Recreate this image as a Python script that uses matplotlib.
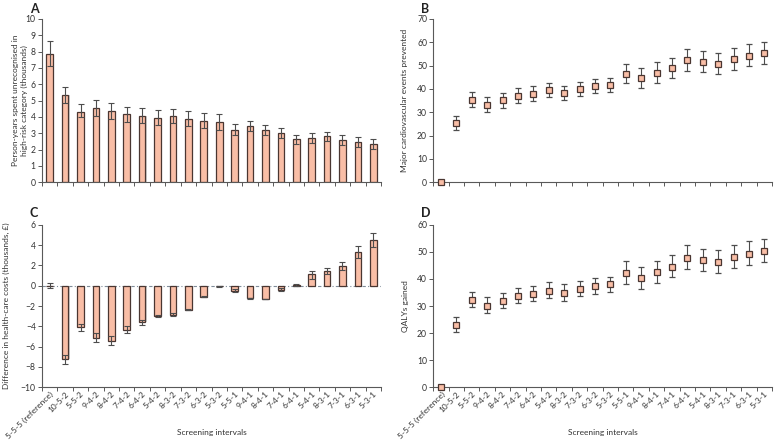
import matplotlib
matplotlib.use("Agg")
import matplotlib.pyplot as plt
import numpy as np

plt.rcParams['font.family'] = ['Lato', 'DejaVu Sans']

categories = ["5-5-5 (reference)", "10-5-2", "5-5-2", "9-4-2", "8-4-2", "7-4-2", "6-4-2",
              "5-4-2", "8-3-2", "7-3-2", "6-3-2", "5-3-2", "5-5-1", "9-4-1", "8-4-1",
              "7-4-1", "6-4-1", "5-4-1", "8-3-1", "7-3-1", "6-3-1", "5-3-1"]

# Panel A: person-years unrecognised in high-risk category (thousands)
a_val = [7.86, 5.35, 4.32, 4.55, 4.35, 4.16, 4.06, 3.94, 4.04, 3.88, 3.75, 3.69,
         3.22, 3.43, 3.20, 3.00, 2.63, 2.71, 2.81, 2.59, 2.45, 2.33]
a_lo = [7.12, 4.87, 3.98, 4.08, 3.90, 3.71, 3.61, 3.49, 3.61, 3.43, 3.31, 3.20,
        2.90, 3.12, 2.90, 2.69, 2.35, 2.39, 2.51, 2.30, 2.14, 2.04]
a_hi = [8.67, 5.82, 4.80, 5.04, 4.84, 4.61, 4.53, 4.41, 4.51, 4.35, 4.22, 4.18,
        3.55, 3.73, 3.49, 3.31, 2.90, 3.00, 3.08, 2.88, 2.76, 2.63]

# Panel B: major cardiovascular events prevented
b_val = [0, 25.3, 35.4, 33.1, 35.1, 37.1, 38.0, 39.4, 38.3, 39.9, 41.1, 41.8,
         46.5, 44.6, 46.8, 48.9, 52.6, 51.6, 50.7, 52.7, 54.3, 55.3]
b_lo = [0, 22.4, 32.4, 30.1, 32.0, 34.0, 35.0, 36.6, 35.3, 36.9, 38.1, 38.8,
        42.6, 40.3, 42.6, 44.6, 47.6, 47.1, 46.4, 48.1, 49.7, 50.6]
b_hi = [0, 28.3, 38.6, 36.4, 38.1, 40.3, 41.1, 42.6, 41.4, 43.1, 44.1, 44.9,
        50.6, 49.1, 51.4, 53.4, 57.3, 56.4, 55.6, 57.7, 59.1, 60.0]

# Panel C: difference in health-care costs (thousands, GBP)
c_val = [0.0, -7.25, -4.1, -5.1, -5.4, -4.35, -3.6, -3.0, -2.85, -2.35, -1.08, -0.07,
         -0.55, -1.25, -1.3, -0.45, 0.05, 1.1, 1.45, 1.95, 3.35, 4.5]
c_lo = [-0.27, -7.75, -4.45, -5.55, -5.8, -4.7, -3.85, -3.1, -3.0, -2.4, -1.1, -0.12,
        -0.62, -1.28, -1.33, -0.5, 0.0, 0.7, 1.1, 1.5, 2.75, 3.8]
c_hi = [0.27, -6.8, -3.8, -4.7, -5.0, -4.0, -3.35, -2.9, -2.7, -2.25, -1.05, -0.02,
        -0.35, -1.22, -1.27, -0.2, 0.15, 1.45, 1.75, 2.35, 3.9, 5.2]

# Panel D: QALYs gained
d_val = [0, 23.0, 32.1, 30.1, 31.7, 33.7, 34.6, 35.7, 34.8, 36.4, 37.3, 38.0,
         42.3, 40.3, 42.4, 44.5, 47.7, 46.8, 46.1, 48.1, 49.3, 50.3]
d_lo = [0, 20.4, 29.5, 27.3, 29.1, 31.0, 31.8, 33.0, 32.0, 33.6, 34.6, 35.2,
        38.1, 36.4, 38.4, 40.6, 43.6, 42.8, 42.0, 43.9, 45.0, 46.1]
d_hi = [0, 25.8, 35.0, 33.2, 34.7, 36.8, 37.5, 38.7, 38.0, 39.3, 40.2, 40.8,
        46.5, 44.5, 46.6, 48.8, 52.4, 51.2, 50.5, 52.5, 53.9, 54.6]

W, H = 774, 441
fig = plt.figure(figsize=(W / 100, H / 100), dpi=100)

FILL = '#f9bea6'
EDGE = '#4a3631'
ERR = '#4d4d4d'
SPINE = '#595959'
TXT = '#333333'
TFS = 6.2
XFS = 6.0
LFS = 6.0

def px_axes(x0, y0, x1, y1):
    return fig.add_axes([x0 / W, 1 - y1 / H, (x1 - x0) / W, (y1 - y0) / H])

x = np.arange(len(categories))

def style(ax, ylim, yticks, show_labels):
    ax.set_xlim(-0.5, len(categories) - 0.5)
    ax.set_ylim(*ylim)
    ax.set_yticks(yticks)
    ax.set_yticklabels([str(t) if t >= 0 else '\u2212' + str(-t) for t in yticks])
    for s in ['top', 'right']:
        ax.spines[s].set_visible(False)
    for s in ['left', 'bottom']:
        ax.spines[s].set_color(SPINE)
        ax.spines[s].set_linewidth(0.8)
    ax.set_xticks(np.arange(-0.5, len(categories)), minor=False)
    ax.set_xticklabels([])
    ax.tick_params(axis='both', direction='out', length=3, width=0.7, color=SPINE,
                   labelsize=TFS, labelcolor=TXT, pad=1.5)
    if show_labels:
        ax.set_xticks(x, minor=True)
        ax.set_xticklabels(categories, minor=True, rotation=45, ha='right',
                           rotation_mode='anchor', fontsize=XFS, color=TXT)
        ax.tick_params(axis='x', which='minor', length=0, pad=2)

def bars(ax, val, lo, hi):
    val = np.array(val); lo = np.array(lo); hi = np.array(hi)
    ax.bar(x + 0.07, val, width=0.43, color='#9a9a9a', alpha=0.45, linewidth=0, zorder=1)
    ax.bar(x, val, width=0.43, color=FILL, edgecolor=EDGE, linewidth=0.9, zorder=2)
    ax.errorbar(x, val, yerr=[val - lo, hi - val], fmt='none', ecolor=ERR,
                elinewidth=0.8, capsize=2.2, capthick=0.8, zorder=3)

def points(ax, val, lo, hi):
    val = np.array(val); lo = np.array(lo); hi = np.array(hi)
    ax.errorbar(x, val, yerr=[val - lo, hi - val], fmt='s', markersize=4.6,
                markerfacecolor=FILL, markeredgecolor=EDGE, markeredgewidth=0.9,
                ecolor=ERR, elinewidth=0.8, capsize=2.2, capthick=0.8, zorder=3,
                clip_on=False)

def ylab(ax, text, xpx, x0):
    # xpx = right edge (pixels) of the rotated label
    ax.set_ylabel(text, fontsize=LFS, color=TXT, linespacing=1.3)
    ax.yaxis.set_label_coords((xpx - x0) / 338.7, 0.5)

axA = px_axes(42, 19, 381, 182.3)
bars(axA, a_val, a_lo, a_hi)
style(axA, (0, 10), list(range(0, 11)), False)
ylab(axA, 'Person-years spent unrecognised in\nhigh-risk category (thousands)', 28, 42)

axB = px_axes(433.3, 19, 772, 182.3)
points(axB, b_val, b_lo, b_hi)
style(axB, (0, 70), list(range(0, 71, 10)), False)
ylab(axB, 'Major cardiovascular events prevented', 408, 433.3)

axC = px_axes(42, 224.7, 381, 387.3)
axC.axhline(0, color='#7f8c99', linewidth=0.8, linestyle=(0, (3, 2, 1, 2)), zorder=0)
bars(axC, c_val, c_lo, c_hi)
style(axC, (-10, 6), list(range(-10, 7, 2)), True)
ylab(axC, 'Difference in health-care costs (thousands, \u00a3)', 10, 42)

axD = px_axes(433.3, 224.7, 772, 387.3)
points(axD, d_val, d_lo, d_hi)
style(axD, (0, 60), list(range(0, 61, 10)), True)
ylab(axD, 'QALYs gained', 409, 433.3)

for ax, cx in [(axC, (42 + 381) / 2), (axD, (433.3 + 772) / 2)]:
    fig.text(cx / W, 1 - 432 / H, 'Screening intervals', fontsize=LFS, color=TXT,
             ha='center', va='center')

for lbl, (px, py) in zip('ABCD', [(30, 3), (421, 3), (30, 207), (421, 207)]):
    fig.text(px / W, 1 - py / H, lbl, fontsize=9, fontweight='bold',
             color='#222222', ha='left', va='top')

fig.savefig('out.png', dpi=100)
